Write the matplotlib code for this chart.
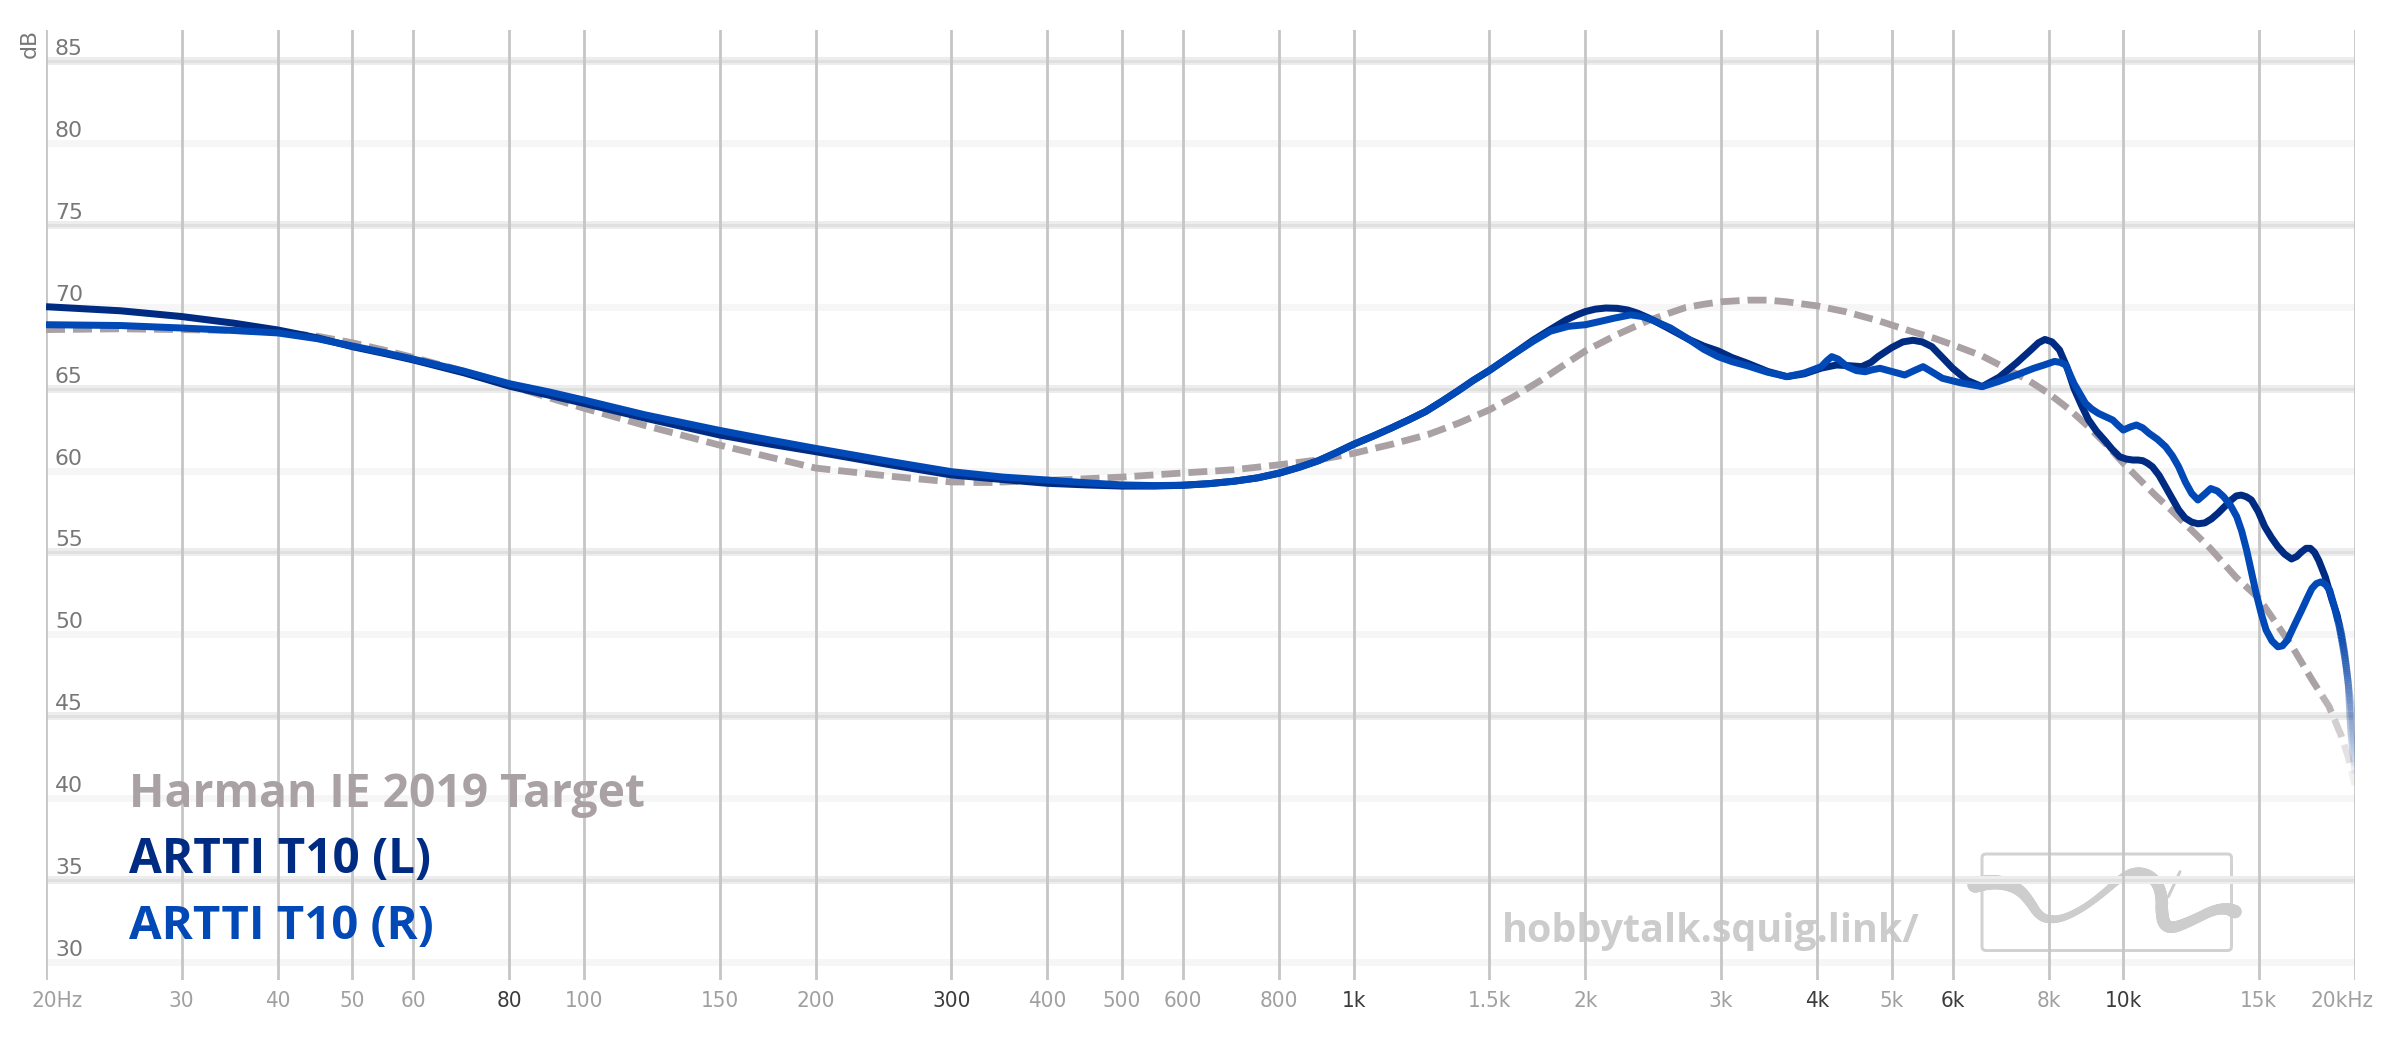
import numpy as np
import matplotlib
matplotlib.use("Agg")
import matplotlib.pyplot as plt
from matplotlib.collections import LineCollection
from matplotlib.patches import FancyBboxPatch
from matplotlib import font_manager as fm
import matplotlib.transforms as mtransforms
from matplotlib.colors import to_rgba

# ---------------- data ----------------
target_f = [20, 25, 30, 35, 40, 45, 50, 55, 60, 70, 80, 90, 100, 120, 150, 175, 200, 250, 300, 350,
            400, 450, 500, 600, 700, 800, 900, 1000, 1120, 1250, 1370, 1500, 1620, 1750, 1870,
            2000, 2200, 2400, 2550, 2700, 2850, 3000, 3250, 3450, 3650, 4000, 4350, 4800, 5300,
            5700, 6100, 6550, 7000, 7500, 8000, 8500, 9000, 9500, 10000, 10500, 11000, 11500,
            12000, 13000, 14000, 15000, 16000, 16600, 17600, 18500, 19200, 19600, 20000]
target_db = [68.6, 68.65, 68.6, 68.55, 68.45, 68.2, 67.8, 67.35, 66.9, 66.05, 65.2, 64.45, 63.8,
             62.75, 61.55, 60.8, 60.15, 59.65, 59.3, 59.3, 59.4, 59.5, 59.6, 59.85, 60.05, 60.35,
             60.65, 61.05, 61.6, 62.2, 62.9, 63.7, 64.55, 65.5, 66.4, 67.3, 68.3, 69.1, 69.55,
             69.95, 70.15, 70.3, 70.4, 70.4, 70.3, 70.05, 69.7, 69.15, 68.5, 68.05, 67.55, 67.0,
             66.3, 65.55, 64.7, 63.75, 62.7, 61.6, 60.45, 59.45, 58.5, 57.65, 56.8, 55.2, 53.5,
             52.2, 50.3, 49.2, 47.2, 45.6, 43.8, 42.5, 40.8]

left_f = [20, 25, 30, 35, 40, 45, 50, 55, 60, 70, 80, 90, 100, 120, 150, 175, 200, 250, 300, 350,
          400, 450, 500, 550, 600, 650, 700, 750, 800, 850, 900, 950, 1000, 1060, 1120, 1180,
          1240, 1300, 1370, 1430, 1500, 1600, 1712, 1800, 1890, 1950, 2000, 2060, 2127, 2200,
          2270, 2340, 2420, 2560, 2727, 2850, 2975, 3100, 3244, 3450, 3655, 3850, 4051, 4240,
          4400, 4571, 4700, 4800, 5000, 5170, 5330, 5480, 5640, 5820, 6000, 6270, 6554, 6900,
          7262, 7600, 7760, 7910, 8080, 8262, 8450, 8630, 8820, 9010, 9230, 9450, 9670, 9890,
          10090, 10290, 10450, 10600, 10750, 10910, 11130, 11350, 11570, 11800, 12030, 12270,
          12500, 12760, 13020, 13280, 13540, 13810, 14020, 14230, 14450, 14670, 14970, 15270,
          15580, 15880, 16200, 16540, 16800, 17050, 17280, 17500, 17720, 17950, 18300, 18670,
          18950, 19200, 19400, 19600, 19760, 20000]
left_db = [70.0, 69.75, 69.4, 69.0, 68.58, 68.1, 67.56, 67.15, 66.75, 65.95, 65.15, 64.6, 64.1,
           63.2, 62.17, 61.6, 61.15, 60.35, 59.73, 59.45, 59.22, 59.12, 59.05, 59.05, 59.1, 59.2,
           59.35, 59.55, 59.83, 60.2, 60.6, 61.1, 61.6, 62.1, 62.6, 63.1, 63.6, 64.2, 64.9, 65.5,
           66.1, 67.0, 67.97, 68.6, 69.2, 69.5, 69.7, 69.85, 69.92, 69.9, 69.8, 69.6, 69.3,
           68.7, 68.0, 67.6, 67.3, 66.9, 66.56, 66.05, 65.73, 65.9, 66.25, 66.44, 66.4, 66.34,
           66.6, 66.95, 67.5, 67.85, 67.95, 67.85, 67.56, 66.9, 66.25, 65.5, 65.12, 65.7, 66.56,
           67.4, 67.8, 68.0, 67.85, 67.36, 66.3, 65.0, 64.0, 63.1, 62.4, 61.86, 61.3, 60.84,
           60.7, 60.64, 60.64, 60.6, 60.45, 60.23, 59.7, 59.0, 58.3, 57.6, 57.1, 56.85, 56.75,
           56.8, 57.05, 57.4, 57.8, 58.2, 58.45, 58.5, 58.4, 58.2, 57.5, 56.57, 55.9, 55.35,
           54.9, 54.6, 54.75, 55.04, 55.25, 55.25, 55.0, 54.5, 53.5, 52.1, 51.2, 50.06, 48.8,
           47.0, 44.0, 41.5]

right_f = [20, 25, 30, 35, 40, 45, 50, 55, 60, 70, 80, 90, 100, 120, 150, 175, 200, 250, 300, 350,
           400, 450, 500, 550, 600, 650, 700, 750, 800, 850, 900, 950, 1000, 1060, 1120, 1180,
           1240, 1300, 1370, 1430, 1500, 1600, 1712, 1800, 1900, 2000, 2090, 2180, 2290, 2370,
           2440, 2580, 2727, 2850, 2975, 3100, 3244, 3450, 3655, 3850, 4051, 4120, 4180, 4260,
           4380, 4500, 4620, 4720, 4830, 5000, 5200, 5350, 5494, 5650, 5820, 6150, 6554, 6900,
           7262, 7650, 7900, 8140, 8280, 8420, 8630, 8930, 9100, 9280, 9690, 9850, 10000, 10200,
           10400, 10600, 10800, 11080, 11350, 11580, 11800, 12040, 12270, 12500, 12750, 12990,
           13250, 13500, 13770, 14040, 14250, 14460, 14670, 14880, 15100, 15330, 15600, 15880,
           16100, 16340, 16700, 17050, 17330, 17580, 17820, 18060, 18300, 18540, 18800, 19080,
           19280, 19480, 19660, 19840, 20000]
right_db = [68.9, 68.85, 68.7, 68.55, 68.4, 68.05, 67.6, 67.2, 66.8, 66.05, 65.3, 64.8, 64.3,
            63.4, 62.45, 61.85, 61.35, 60.55, 59.93, 59.6, 59.42, 59.25, 59.12, 59.08, 59.1,
            59.2, 59.35, 59.55, 59.85, 60.2, 60.6, 61.1, 61.6, 62.1, 62.6, 63.1, 63.6, 64.2,
            64.9, 65.5, 66.1, 67.0, 67.9, 68.5, 68.8, 68.9, 69.1, 69.3, 69.5, 69.4, 69.2, 68.7,
            68.0, 67.4, 66.95, 66.65, 66.4, 66.0, 65.73, 65.95, 66.34, 66.7, 66.95, 66.8, 66.34,
            66.1, 66.03, 66.15, 66.24, 66.05, 65.83, 66.1, 66.34, 66.0, 65.63, 65.35, 65.12,
            65.45, 65.83, 66.24, 66.45, 66.66, 66.6, 66.44, 65.3, 64.1, 63.75, 63.49, 63.08,
            62.75, 62.47, 62.65, 62.78, 62.6, 62.27, 61.9, 61.45, 60.9, 60.23, 59.3, 58.6, 58.2,
            58.55, 58.9, 58.75, 58.4, 57.9, 57.18, 56.3, 55.15, 53.8, 52.5, 51.3, 50.26, 49.6,
            49.24, 49.3, 49.65, 50.6, 51.48, 52.2, 52.8, 53.1, 53.2, 53.05, 52.7, 51.7, 50.47,
            49.3, 48.0, 46.5, 44.97, 42.0]

series_names = ["Harman IE 2019 Target", "ARTTI T10 (L)", "ARTTI T10 (R)"]
series_colors = ["#aaa1a5", "#002b82", "#0049b6"]

ytick_vals = [30, 35, 40, 45, 50, 55, 60, 65, 70, 75, 80, 85]
xtick_vals = [20, 30, 40, 50, 60, 80, 100, 150, 200, 300, 400, 500, 600, 800, 1000, 1500, 2000,
              3000, 4000, 5000, 6000, 8000, 10000, 15000, 20000]
xtick_labels = ["20Hz", "30", "40", "50", "60", "80", "100", "150", "200", "300", "400", "500",
                "600", "800", "1k", "1.5k", "2k", "3k", "4k", "5k", "6k", "8k", "10k", "15k", "20kHz"]
xtick_dark = ["80", "300", "1k", "4k", "6k", "10k"]
watermark = "hobbytalk.squig.link/"

# ---------------- fonts ----------------
def font_ok(**kw):
    try:
        return fm.findfont(fm.FontProperties(**kw), fallback_to_default=False)
    except Exception:
        return None

p = font_ok(family="DejaVu Sans", stretch="condensed")
if p and "Condensed" in p:
    tick_font = dict(family="DejaVu Sans", fontstretch="condensed")
elif font_ok(family="Liberation Sans Narrow"):
    tick_font = dict(family="Liberation Sans Narrow")
else:
    tick_font = dict(family="DejaVu Sans")
legend_family = "Open Sans" if font_ok(family="Open Sans") else "DejaVu Sans"

# ---------------- figure ----------------
W, H, DPI = 2400, 1038, 100
PX = 72.0 / DPI  # points per pixel
fig = plt.figure(figsize=(W / DPI, H / DPI), dpi=DPI)
fig.patch.set_facecolor("white")

bg = fig.add_axes([0, 0, 1, 1], zorder=0)
bg.set_xlim(0, W)
bg.set_ylim(H, 0)
bg.axis("off")

ax_left, ax_right, ax_top, ax_bottom = 46, 2355, 30, 980
ax = fig.add_axes([ax_left / W, (H - ax_bottom) / H, (ax_right - ax_left) / W,
                   (ax_bottom - ax_top) / H], zorder=1)
ax.patch.set_alpha(0)
ax.set_xscale("log")
ax.set_xlim(20, 20000)
ax.set_ylim(28.90, 86.89)
for s in ax.spines.values():
    s.set_visible(False)
ax.xaxis.set_major_locator(matplotlib.ticker.NullLocator())
ax.xaxis.set_minor_locator(matplotlib.ticker.NullLocator())
ax.yaxis.set_major_locator(matplotlib.ticker.NullLocator())
ax.tick_params(length=0)

# grid
for v in ytick_vals:
    if v % 10 == 5:
        ax.axhline(v, color="#ededed", lw=8 * PX, zorder=0.5)
        ax.axhline(v, color="#e0e0e0", lw=3 * PX, zorder=0.6)
    else:
        ax.axhline(v, color="#f6f6f6", lw=7 * PX, zorder=0.5)
for f in xtick_vals:
    ax.axvline(f, color="#c6c6c6", lw=2.8 * PX, zorder=0.8)

# y labels
for v in ytick_vals:
    tr = mtransforms.offset_copy(ax.get_yaxis_transform(), fig=fig, x=9, y=6, units="dots")
    ax.text(0, v, str(v), transform=tr, ha="left", va="baseline", fontsize=15.8,
            color="#777777", family="DejaVu Sans", zorder=3)
fig.text(30 / W, 1 - 44 / H, "dB", rotation=90, ha="center", va="center",
         fontsize=15.8, color="#777777", family="DejaVu Sans")

# x labels
for f, lab in zip(xtick_vals, xtick_labels):
    col = "#3c3c3c" if lab in xtick_dark else "#a0a0a0"
    if lab == "20Hz":
        ha, dx = "left", -14
    elif lab == "20kHz":
        ha, dx = "right", 19
    else:
        ha, dx = "center", 0
    tr = mtransforms.offset_copy(ax.get_xaxis_transform(), fig=fig, x=dx, y=-27, units="dots")
    ax.text(f, 0, lab, transform=tr, ha=ha, va="baseline", fontsize=16, color=col,
            clip_on=False, **tick_font)


# ---------------- curves ----------------
def solid_fade(f, db, color, lw_px, fade_start, end_alpha, z):
    f = np.asarray(f, float)
    db = np.asarray(db, float)
    lf = np.log10(f)
    l0 = np.log10(fade_start)
    i = int(np.searchsorted(f, fade_start))
    y0 = np.interp(l0, lf, db)
    ax.plot(np.concatenate([f[:i], [fade_start]]), np.concatenate([db[:i], [y0]]),
            color=color, lw=lw_px * PX, solid_capstyle="butt", solid_joinstyle="round", zorder=z)
    ff = np.concatenate([[fade_start], f[i:]])
    dd = np.concatenate([[y0], db[i:]])
    lend = lf[-1]
    segs, cols = [], []
    base = np.array(to_rgba(color))
    for k in range(len(ff) - 1):
        n = 14
        la, lb = np.log10(ff[k]), np.log10(ff[k + 1])
        ts = np.linspace(0, 1, n + 1)
        lx = la + (lb - la) * ts
        yy = dd[k] + (dd[k + 1] - dd[k]) * ts
        for j in range(n):
            segs.append([(10 ** lx[j], yy[j]), (10 ** lx[j + 1], yy[j + 1])])
            t = ((lx[j] + lx[j + 1]) / 2 - l0) / (lend - l0)
            c = base.copy()
            c[3] = 1 - (1 - end_alpha) * t
            cols.append(c)
    ax.add_collection(LineCollection(segs, colors=cols, linewidths=lw_px * PX,
                                     capstyle="butt", zorder=z))


def dashed_fade(f, db, color, lw_px, on, off, fade_start, end_alpha, z):
    f = np.asarray(f, float)
    db = np.asarray(db, float)
    xy = ax.transData.transform(np.column_stack([f, db]))
    seg = np.diff(xy, axis=0)
    s = np.concatenate([[0], np.cumsum(np.hypot(seg[:, 0], seg[:, 1]))])
    total = s[-1]
    inv = ax.transData.inverted()
    l0, lend = np.log10(fade_start), np.log10(f[-1])
    base = np.array(to_rgba(color))
    dashes, cols = [], []
    a = 0.0
    while a < total:
        b = min(a + on, total)
        inner = s[(s > a) & (s < b)]
        ss = np.concatenate([[a], inner, [b]])
        px = np.interp(ss, s, xy[:, 0])
        py = np.interp(ss, s, xy[:, 1])
        d = inv.transform(np.column_stack([px, py]))
        dashes.append(d)
        lm = np.log10(d[:, 0].mean())
        c = base.copy()
        if lm > l0:
            c[3] = 1 - (1 - end_alpha) * min(1, (lm - l0) / (lend - l0))
        cols.append(c)
        a += on + off
    ax.add_collection(LineCollection(dashes, colors=cols, linewidths=lw_px * PX,
                                     capstyle="butt", joinstyle="round", zorder=z))


dashed_fade(target_f, target_db, series_colors[0], 6.8, 19, 8, 18000, 0.12, 2)
solid_fade(left_f, left_db, series_colors[1], 7.0, 19000, 0.05, 3)
solid_fade(right_f, right_db, series_colors[2], 7.0, 19000, 0.05, 4)

# ---------------- legend text ----------------
renderer = fig.canvas.get_renderer()
def fit_text(x, y_base, txt, width, color, fs0, weight):
    t = fig.text(x / W, 1 - y_base / H, txt, ha="left", va="baseline", fontsize=fs0,
                 color=color, family=legend_family, fontweight=weight, zorder=5)
    w = t.get_window_extent(renderer=renderer).width
    t.set_fontsize(fs0 * width / w)
    return t

fit_text(129, 807, series_names[0], 516, series_colors[0], 34, "bold")
fit_text(129, 873, series_names[1], 303, series_colors[1], 34, "bold")
fit_text(129, 939, series_names[2], 305, series_colors[2], 34, "bold")

# ---------------- watermark ----------------
wt = bg.text(1502, 942, watermark, ha="left", va="baseline", fontsize=30, color="#cccccc",
             family=legend_family, fontweight="bold")
ww = wt.get_window_extent(renderer=renderer).width
wt.set_fontsize(30 * 416 / ww)

box = FancyBboxPatch((1982, 854), 249.5, 96.5, boxstyle="round,pad=0,rounding_size=4",
                     fill=False, ec="#d2d2d2", lw=3 * PX)
bg.add_patch(box)


def chaikin(pts, n=3):
    pts = np.asarray(pts, float)
    for _ in range(n):
        q = 0.75 * pts[:-1] + 0.25 * pts[1:]
        r = 0.25 * pts[:-1] + 0.75 * pts[1:]
        new = np.empty((2 * len(q), pts.shape[1]))
        new[0::2] = q
        new[1::2] = r
        pts = np.vstack([pts[:1], new, pts[-1:]])
    return pts

squig = [(45, 135, 46), (90, 125, 44), (140, 130, 40), (180, 150, 34), (210, 185, 30),
         (235, 225, 27), (265, 240, 24), (310, 235, 21), (370, 205, 19), (430, 160, 19),
         (480, 115, 22), (520, 95, 28), (560, 100, 32), (590, 125, 34), (605, 165, 36),
         (605, 215, 38), (612, 255, 38), (640, 265, 34), (700, 240, 30), (760, 210, 30),
         (800, 205, 34), (825, 215, 40)]
sq = chaikin([(1960 + x / 3, 840 + y / 3, w / 3) for x, y, w in squig], 3)
segs = [[(sq[i, 0], sq[i, 1]), (sq[i + 1, 0], sq[i + 1, 1])] for i in range(len(sq) - 1)]
wid = [(sq[i, 2] + sq[i + 1, 2]) / 2 * PX for i in range(len(sq) - 1)]
bg.add_collection(LineCollection(segs, colors="#cdcdcd", linewidths=wid, capstyle="round"))
bg.plot([1960 + 625 / 3, 1960 + 660 / 3], [840 + 170 / 3, 840 + 95 / 3], color="#cdcdcd",
        lw=3 * PX, solid_capstyle="round")

fig.savefig("out.png", dpi=DPI)
